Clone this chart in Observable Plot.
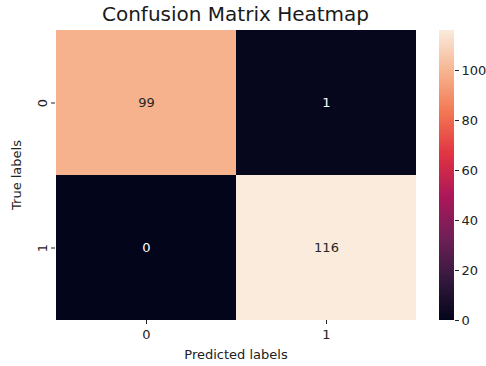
<!DOCTYPE html>
<html><head><meta charset="utf-8">
<script src="https://cdn.jsdelivr.net/npm/d3@7"></script>
<script src="https://cdn.jsdelivr.net/npm/@observablehq/plot@0.6"></script>
<style>
body{margin:0;background:#fff;font-family:"DejaVu Sans",sans-serif;}
#wrap{position:relative;width:486px;height:366px;overflow:hidden;background:#fff;}
#title{position:absolute;left:35px;width:401px;top:2px;text-align:center;font-size:20px;line-height:25px;color:#1a1a1a;z-index:5;white-space:nowrap;}
#hm{position:absolute;left:0;top:0;}
#cb{position:absolute;left:430px;top:0;}
</style></head>
<body><div id="wrap"><div id="title">Confusion Matrix Heatmap</div><div id="hm"></div><div id="cb"></div></div>
<script>
const predictedLabels = ["0","1"];
const trueLabels = ["0","1"];
const matrix = [[99,1],[0,116]];
const colorTicks = [0,20,40,60,80,100];
const vmax = 116;
// seaborn "rocket" colormap anchors
const rocketStops = [0,1/7,2/7,3/7,4/7,5/7,6/7,1];
const rocketColors = ["#03051a","#35193e","#701f57","#ad1759","#e13342","#f37651","#f6b48f","#faebdd"];

const cells = [];
trueLabels.forEach((t,i)=>predictedLabels.forEach((p,j)=>cells.push({t,p,v:matrix[i][j]})));

const color = {type:"linear", domain: rocketStops.map(s=>s*vmax), range: rocketColors};
const font = "DejaVu Sans";

const hm = Plot.plot({
  width:430, height:366,
  marginLeft:55, marginRight:14, marginTop:29, marginBottom:46,
  style:{fontFamily:font, fontSize:"13px", color:"#222", background:"transparent"},
  x:{type:"band", domain:predictedLabels, padding:0},
  y:{type:"band", domain:trueLabels, padding:0},
  color,
  marks:[
    Plot.cell(cells,{x:"p",y:"t",fill:"v",inset:0, shapeRendering:"crispEdges"}),
    Plot.text(cells,{filter:d=>d.v>58,x:"p",y:"t",text:d=>String(d.v),fill:"#262626",fontSize:13}),
    Plot.text(cells,{filter:d=>d.v<=58,x:"p",y:"t",text:d=>String(d.v),fill:"white",fontSize:13}),
    Plot.axisX({label:"Predicted labels", labelAnchor:"center", labelArrow:"none", labelOffset:38, tickSize:4, tickPadding:5, fontSize:13}),
    Plot.axisY({label:"True labels", labelAnchor:"center", labelArrow:"none", labelOffset:44, tickSize:4, tickPadding:5, tickRotate:-90, fontSize:13})
  ]
});
document.getElementById("hm").appendChild(hm);

const step = 0.5;
const bands = d3.range(0, vmax, step).map(v=>({y1:v, y2:Math.min(vmax, v+step+0.05), c:v+step/2}));
const cb = Plot.plot({
  width:56, height:366,
  marginLeft:9, marginRight:32, marginTop:30, marginBottom:46,
  style:{fontFamily:font, fontSize:"13px", color:"#222", background:"transparent"},
  x:{domain:[0,1], axis:null},
  y:{domain:[0,vmax]},
  color,
  marks:[
    Plot.rect(bands,{x1:0,x2:1,y1:"y1",y2:"y2",fill:"c", shapeRendering:"crispEdges"}),
    Plot.axisY({anchor:"right", ticks:colorTicks, tickSize:4, tickPadding:3, label:null, fontSize:13})
  ]
});
document.getElementById("cb").appendChild(cb);
</script></body></html>
